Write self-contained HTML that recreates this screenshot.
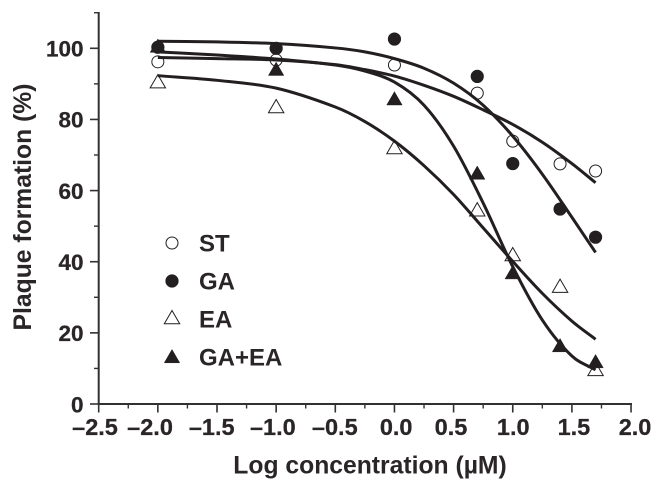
<!DOCTYPE html>
<html lang="en">
<head>
<meta charset="utf-8">
<title>Plaque formation chart</title>
<style>
html,body{margin:0;padding:0;background:#fff;}
svg{display:block;}
text{font-family:"Liberation Sans",sans-serif;font-weight:bold;fill:#2a2627;}
</style>
</head>
<body>
<svg id="chart" xmlns="http://www.w3.org/2000/svg" width="664" height="491" viewBox="0 0 664 491"></svg>
<script>
const concentrations = [-2, -1, 0, 0.7, 1, 1.4, 1.7];
const stValues = [96.2, 96.7, 95.3, 87.4, 73.9, 67.5, 65.5];
const gaValues = [100.3, 100, 102.6, 92.1, 67.6, 54.8, 46.9];
const eaValues = [90.5, 83.5, 72, 54.5, 41.9, 33, 9.6];
const gaEaValues = [100.5, 94, 85.7, 64.8, 36.8, 16.3, 11.8];

const fitX = [-2, -1.5, -1, -0.5, -0.25, 0, 0.25, 0.5, 0.75, 1, 1.25, 1.5, 1.7];
const stFitY = [97.4, 97.1, 96.7, 95.4, 94, 92.2, 89.6, 86.5, 82.7, 78.6, 73.6, 67.6, 62.2];
const gaFitY = [102, 101.8, 101.3, 100.1, 99, 97.1, 94.4, 90.2, 84, 75.3, 64.6, 52.5, 42.6];
const eaFitY = [92.3, 91, 88.8, 83.5, 79.4, 73.9, 67, 58.9, 49.5, 40.1, 31.1, 23.3, 18.2];
const gaEaFitY = [99, 98.1, 97, 95.3, 93.6, 90.5, 84, 72.5, 56.5, 38.6, 23.6, 13.5, 9.6];

const xTickLabels = ['\u20132.5', '\u20132.0', '\u20131.5', '\u20131.0', '\u20130.5', '0.0', '0.5', '1.0', '1.5', '2.0'];
const xTickValues = [-2.5, -2, -1.5, -1, -0.5, 0, 0.5, 1, 1.5, 2];
const xMinorValues = [-2.25, -1.75, -1.25, -0.75, -0.25, 0.25, 0.75, 1.25, 1.75];
const yTickValues = [0, 20, 40, 60, 80, 100];
const yMinorValues = [10, 30, 50, 70, 90, 110];

const svg = document.getElementById('chart');
const NS = 'http://www.w3.org/2000/svg';
const INK = '#231f20';
const AXIS = '#333031';
const labelNudge = [-3.7, -7.8, -5.3, -3.3, -0.5, 1.7, -2.6, 0.5, 2, 4];

function xScale(v) { return 98.7 + (v + 2.5) * 118.3; }
function yScale(v) { return 404 - v * 3.557; }

function make(tag, attrs, text) {
  const el = document.createElementNS(NS, tag);
  for (const k in attrs) el.setAttribute(k, attrs[k]);
  if (text !== undefined) el.textContent = text;
  svg.appendChild(el);
  return el;
}

function fitPath(xs, ys) {
  const px = xs.map(xScale);
  const py = ys.map(yScale);
  const n = px.length;
  const m = [];
  for (let i = 0; i < n; i++) {
    if (i === 0) m.push((py[1] - py[0]) / (px[1] - px[0]));
    else if (i === n - 1) m.push((py[n - 1] - py[n - 2]) / (px[n - 1] - px[n - 2]));
    else m.push((py[i + 1] - py[i - 1]) / (px[i + 1] - px[i - 1]));
  }
  let d = 'M' + px[0].toFixed(2) + ' ' + py[0].toFixed(2);
  for (let i = 0; i < n - 1; i++) {
    const h = (px[i + 1] - px[i]) / 3;
    d += ' C' + (px[i] + h).toFixed(2) + ' ' + (py[i] + m[i] * h).toFixed(2) +
         ' ' + (px[i + 1] - h).toFixed(2) + ' ' + (py[i + 1] - m[i + 1] * h).toFixed(2) +
         ' ' + px[i + 1].toFixed(2) + ' ' + py[i + 1].toFixed(2);
  }
  return d;
}

function marker(kind, cx, cy, name) {
  const filled = kind === 'filled-circle' || kind === 'filled-triangle';
  let el;
  if (kind.indexOf('circle') >= 0) {
    el = make('circle', { cx: cx, cy: cy, r: filled ? 6.3 : 6, fill: filled ? INK : 'none', stroke: INK, 'stroke-width': filled ? 0.6 : 1 });
  } else {
    const pts = [[cx, cy - 7.5], [cx + 7.7, cy + 5.8], [cx - 7.7, cy + 5.8]].map(p => p.join(',')).join(' ');
    el = make('polygon', { points: pts, fill: filled ? INK : 'none', stroke: INK, 'stroke-width': filled ? 0.5 : 1 });
  }
  
  
  return el;
}

/* axes */
const xAxisLine = make('line', { x1: 98, y1: 404, x2: 632, y2: 404, stroke: AXIS, 'stroke-width': 2 });


const yAxisLine = make('line', { x1: 98.7, y1: 12, x2: 98.7, y2: 405, stroke: AXIS, 'stroke-width': 2 });



xTickValues.forEach(function (v, i) {
  const t = make('line', { x1: xScale(v), y1: 404, x2: xScale(v), y2: 412.5, stroke: AXIS, 'stroke-width': 1.6 });
  
  
  const l = make('text', { x: xScale(v) + labelNudge[i], y: 435, 'font-size': 23.5, 'text-anchor': 'middle', stroke: '#2a2627', 'stroke-width': 0.25 }, xTickLabels[i]);
  
  
});
xMinorValues.forEach(function (v) {
  const t = make('line', { x1: xScale(v), y1: 404, x2: xScale(v), y2: 408.5, stroke: AXIS, 'stroke-width': 1.4 });
  
  
});
yTickValues.forEach(function (v) {
  const t = make('line', { x1: 90, y1: yScale(v), x2: 98.7, y2: yScale(v), stroke: AXIS, 'stroke-width': 1.6 });
  
  
  const l = make('text', { x: 83.5, y: yScale(v) + 8.3, 'font-size': 22.5, 'text-anchor': 'end', stroke: '#2a2627', 'stroke-width': 0.25 }, String(v));
  
  
});
yMinorValues.forEach(function (v) {
  const t = make('line', { x1: 94, y1: yScale(v), x2: 98.7, y2: yScale(v), stroke: AXIS, 'stroke-width': 1.4 });
  
  
});

/* titles */
const xTitle = make('text', { x: 370, y: 473.5, 'font-size': 24.7, 'text-anchor': 'middle' }, 'Log concentration (\u00B5M)');


const yTitle = make('text', { transform: 'translate(31,207) rotate(-90)', 'font-size': 24.7, 'text-anchor': 'middle' }, 'Plaque formation (%)');



/* fit curves */
const curveSt = make('path', { d: fitPath(fitX, stFitY), fill: 'none', stroke: INK, 'stroke-width': 3 });


const curveGa = make('path', { d: fitPath(fitX, gaFitY), fill: 'none', stroke: INK, 'stroke-width': 3 });


const curveEa = make('path', { d: fitPath(fitX, eaFitY), fill: 'none', stroke: INK, 'stroke-width': 3 });


const curveGaEa = make('path', { d: fitPath(fitX, gaEaFitY), fill: 'none', stroke: INK, 'stroke-width': 3 });



/* points */
concentrations.forEach(function (c, i) {
  marker('open-circle', xScale(c), yScale(stValues[i]), 'st-point');
  marker('filled-circle', xScale(c), yScale(gaValues[i]), 'ga-point');
  marker('open-triangle', xScale(c), yScale(eaValues[i]), 'ea-point');
  marker('filled-triangle', xScale(c), yScale(gaEaValues[i]), 'ga-ea-point');
});

/* legend */
marker('open-circle', 172, 243, 'legend-st-marker');
const legSt = make('text', { x: 199, y: 251.5, 'font-size': 24 }, 'ST');


marker('filled-circle', 172, 281, 'legend-ga-marker');
const legGa = make('text', { x: 199, y: 289.5, 'font-size': 24 }, 'GA');


marker('open-triangle', 172, 318, 'legend-ea-marker');
const legEa = make('text', { x: 199, y: 327.5, 'font-size': 24 }, 'EA');


marker('filled-triangle', 172, 357, 'legend-ga-ea-marker');
const legGaEa = make('text', { x: 199, y: 365.5, 'font-size': 24 }, 'GA+EA');


</script>
</body>
</html>
